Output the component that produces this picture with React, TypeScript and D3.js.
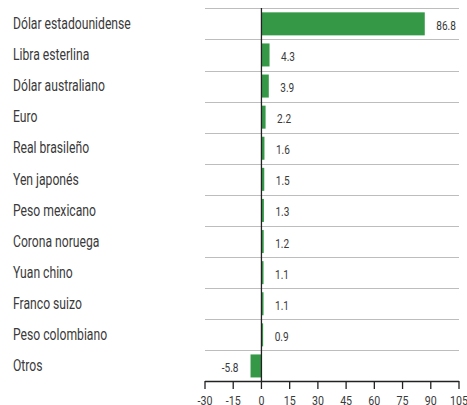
import React from "react";
import * as d3 from "d3";

const categories = [
  "Dólar estadounidense",
  "Libra esterlina",
  "Dólar australiano",
  "Euro",
  "Real brasileño",
  "Yen japonés",
  "Peso mexicano",
  "Corona noruega",
  "Yuan chino",
  "Franco suizo",
  "Peso colombiano",
  "Otros",
];
const values = [86.8, 4.3, 3.9, 2.2, 1.6, 1.5, 1.3, 1.2, 1.1, 1.1, 0.9, -5.8];
const ticks = [-30, -15, 0, 15, 30, 45, 60, 75, 90, 105];

const W = 467;
const H = 405;
const FONT = "Roboto, 'Liberation Sans', sans-serif";

// text drawn through a horizontal squeeze around its anchor point,
// to get near the narrow look of the original condensed face
function NarrowText(props: {
  x: number;
  y: number;
  size: number;
  squeeze: number;
  anchor?: string;
  children: React.ReactNode;
}) {
  return (
    <g transform={`translate(${props.x},${props.y}) scale(${props.squeeze},1)`}>
      <text fontSize={props.size} textAnchor={props.anchor || "start"} fill="#3a3a3a">
        {props.children}
      </text>
    </g>
  );
}

export default function App() {
  const x = d3.scaleLinear().domain([-30, 105]).range([205, 459]);
  const y = d3
    .scaleBand<string>()
    .domain(categories)
    .range([8.3, 381.5])
    .paddingInner(0.26)
    .paddingOuter(0.13);
  const step = y.step();
  const bandTop = (c: string) => y(c)! - (y.paddingInner() * step) / 2;
  const mid = (c: string) => y(c)! + y.bandwidth() / 2;

  return (
    <svg
      width={W}
      height={H}
      style={{ position: "absolute", left: 0, top: 0, background: "#fff" }}
      fontFamily={FONT}
    >
      {/* grid lines at band boundaries */}
      {categories.map((c) => (
        <line
          key={"g" + c}
          x1={x(-30)}
          x2={x(105)}
          y1={Math.round(bandTop(c)) + 0.5}
          y2={Math.round(bandTop(c)) + 0.5}
          stroke="#bdbdbd"
          strokeWidth={1}
        />
      ))}

      {/* category labels */}
      {categories.map((c) => (
        <NarrowText key={"l" + c} x={13} y={mid(c) + 5.2} size={16} squeeze={0.76}>
          {c}
        </NarrowText>
      ))}

      {/* bars */}
      {values.map((v, i) => (
        <rect
          key={"b" + i}
          x={x(Math.min(0, v))}
          y={y(categories[i])!}
          width={Math.abs(x(v) - x(0))}
          height={y.bandwidth()}
          fill="#349847"
        />
      ))}

      {/* value labels */}
      {values.map((v, i) => (
        <NarrowText
          key={"v" + i}
          x={v >= 0 ? x(v) + 11.5 : x(v) - 12}
          y={mid(categories[i]) + 6}
          size={12}
          squeeze={0.84}
          anchor={v >= 0 ? "start" : "end"}
        >
          {v.toFixed(1)}
        </NarrowText>
      ))}

      {/* zero line */}
      <line x1={x(0)} x2={x(0)} y1={8} y2={382} stroke="#222" strokeWidth={1.3} />

      {/* x axis */}
      <line x1={x(-30)} x2={x(105)} y1={381.5} y2={381.5} stroke="#222" strokeWidth={1.3} />
      {ticks.map((t) => (
        <g key={"t" + t}>
          <line x1={x(t)} x2={x(t)} y1={381} y2={389} stroke="#222" strokeWidth={1.3} />
          <NarrowText x={x(t)} y={405} size={13} squeeze={0.82} anchor="middle">
            {t}
          </NarrowText>
        </g>
      ))}
    </svg>
  );
}
